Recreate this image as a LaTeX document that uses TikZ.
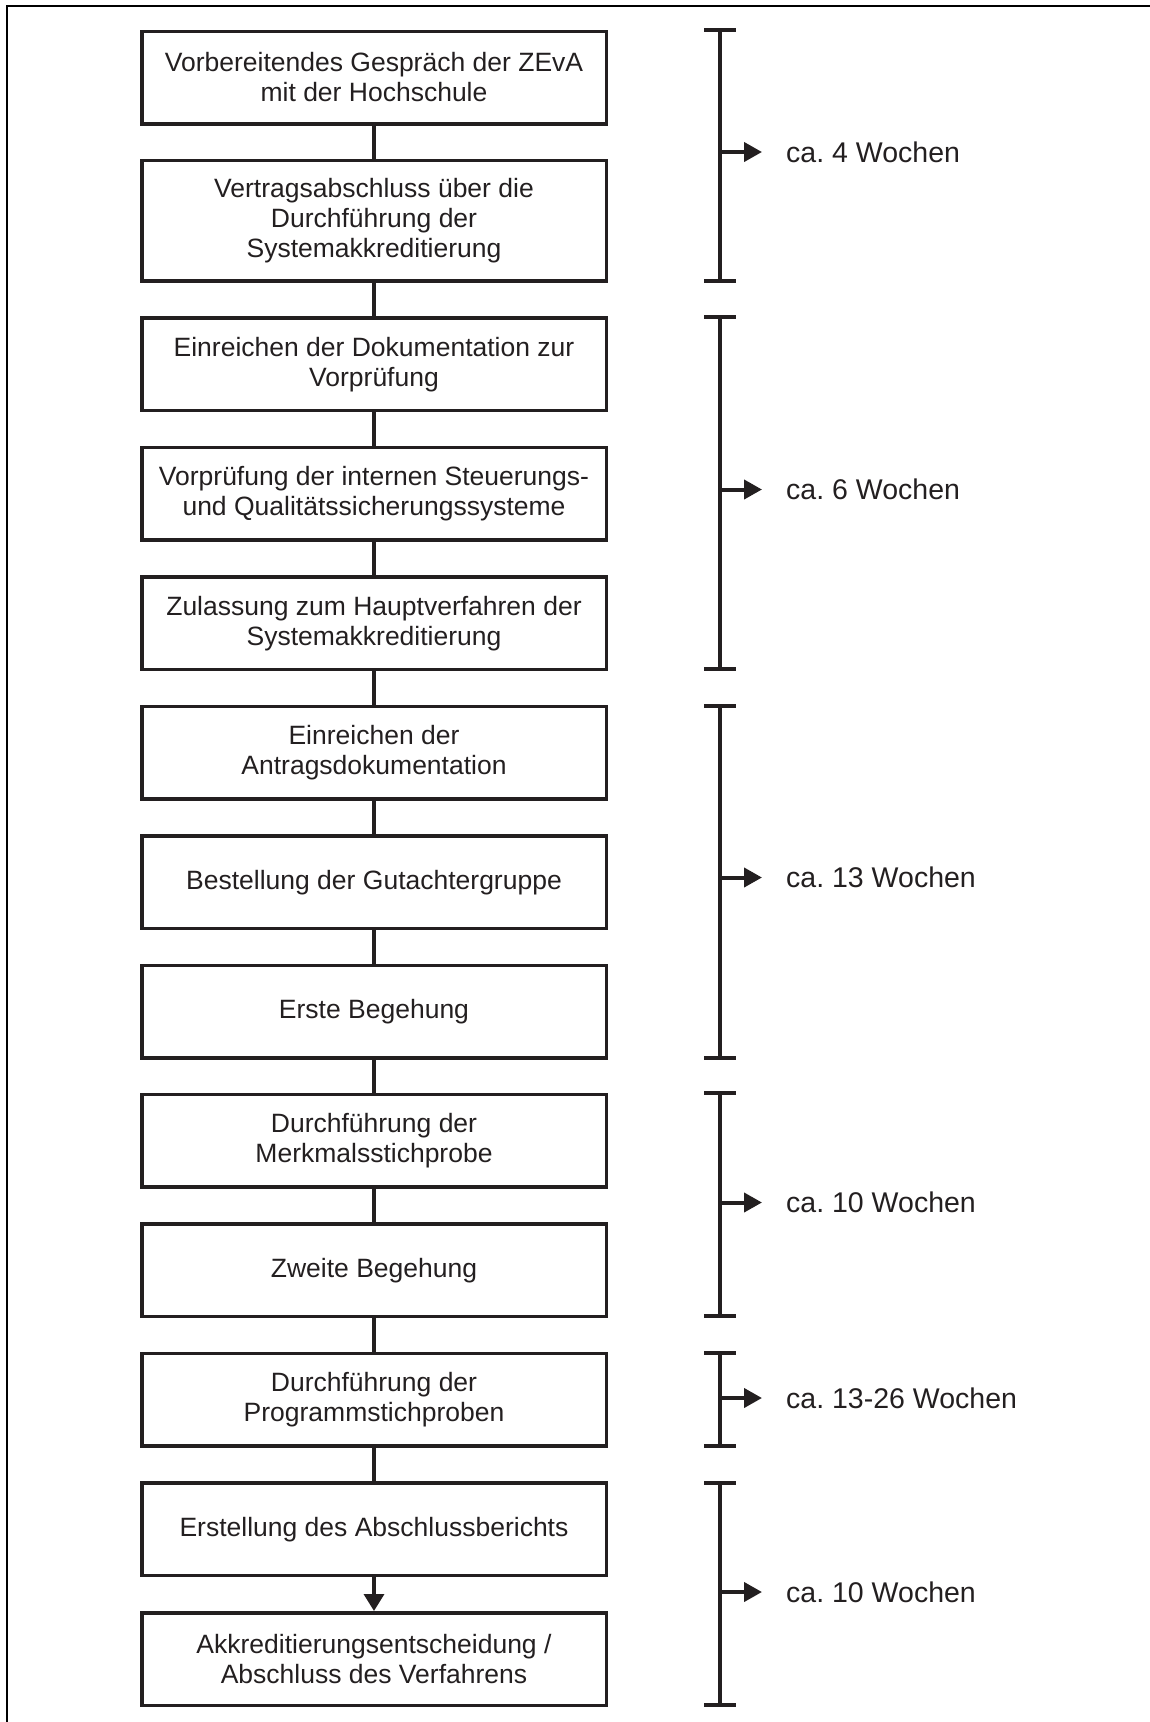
\documentclass[tikz,border=0pt]{standalone}
\usepackage{fontspec}
\setmainfont{Liberation Sans}
\usetikzlibrary{arrows.meta}
\definecolor{ink}{HTML}{231F20}
\frenchspacing
\tikzset{
  box/.style={draw=ink, line width=3.5pt, minimum width=464.5pt, minimum height=92.5pt,
    align=center, inner sep=0pt, text=ink, font=\fontsize{26.5}{30}\selectfont},
  conn/.style={draw=ink, line width=3.5pt},
  brk/.style={draw=ink, line width=4pt},
  lbl/.style={anchor=west, inner sep=0pt, text=ink, font=\fontsize{28.5}{32}\selectfont},
  tip/.style={-{Triangle[length=18pt 0 0, width=19pt 0 0]}}
}
\begin{document}
\begin{tikzpicture}[x=1pt,y=-1pt]
\useasboundingbox (0,0) rectangle (1150,1722);
\draw[line width=2pt, black] (7,1722) -- (7,6) -- (1150,6);

\node[box] (b1) at (374,77.5) {Vorbereitendes Gespräch der ZEvA\\mit der Hochschule};
\node[box, minimum height=120.5pt] (b2) at (374,220.7) {Vertragsabschluss über die\\Durchführung der\\Systemakkreditierung};
\node[box] (b3) at (374,364.3) {Einreichen der Dokumentation zur\\Vorprüfung};
\node[box] (b4) at (374,493.8) {Vorprüfung der internen Steuerungs-\\und Qualitätssicherungssysteme};
\node[box] (b5) at (374,623.3) {Zulassung zum Hauptverfahren der\\Systemakkreditierung};
\node[box] (b6) at (374,752.8) {Einreichen der\\Antragsdokumentation};
\node[box] (b7) at (374,882.3) {Bestellung der Gutachtergruppe};
\node[box] (b8) at (374,1011.5) {Erste Begehung};
\node[box] (b9) at (374,1140.5) {Durchführung der\\Merkmalsstichprobe};
\node[box] (b10) at (374,1270.3) {Zweite Begehung};
\node[box] (b11) at (374,1399.6) {Durchführung der\\Programmstichproben};
\node[box] (b12) at (374,1529.3) {Erstellung des Abschlussberichts};
\node[box] (b13) at (374,1659) {Akkreditierungsentscheidung /\\Abschluss des Verfahrens};

\foreach \a/\b in {b1/b2,b2/b3,b3/b4,b4/b5,b5/b6,b6/b7,b7/b8,b8/b9,b9/b10,b10/b11,b11/b12}
  \draw[conn] (\a.south) -- (\b.north);
\draw[conn, -{Triangle[length=17pt 0 0, width=20pt 0 0]}] (b12.south) -- (b13.north);

\foreach \i/\t/\u/\m/\txt in {1/30/281/152/{ca. 4 Wochen},
                               2/317/668.5/489.5/{ca. 6 Wochen},
                               3/705.5/1057.5/877.5/{ca. 13 Wochen},
                               4/1093/1315.5/1202.5/{ca. 10 Wochen},
                               5/1353/1445.5/1398/{ca. 13-26 Wochen},
                               6/1482.5/1705/1592/{ca. 10 Wochen}} {
  \coordinate (t\i) at (720,\t);
  \coordinate (u\i) at (720,\u);
  \coordinate (m\i) at (720,\m);
  \node[lbl] (l\i) at (786,\m) {\txt};
  \draw[brk] (t\i) -- (u\i);
  \draw[brk] ([xshift=-16pt]t\i) -- ([xshift=16pt]t\i);
  \draw[brk] ([xshift=-16pt]u\i) -- ([xshift=16pt]u\i);
  \draw[brk, tip, shorten >=24pt] (m\i) -- (l\i.west);
}
\end{tikzpicture}
\end{document}
